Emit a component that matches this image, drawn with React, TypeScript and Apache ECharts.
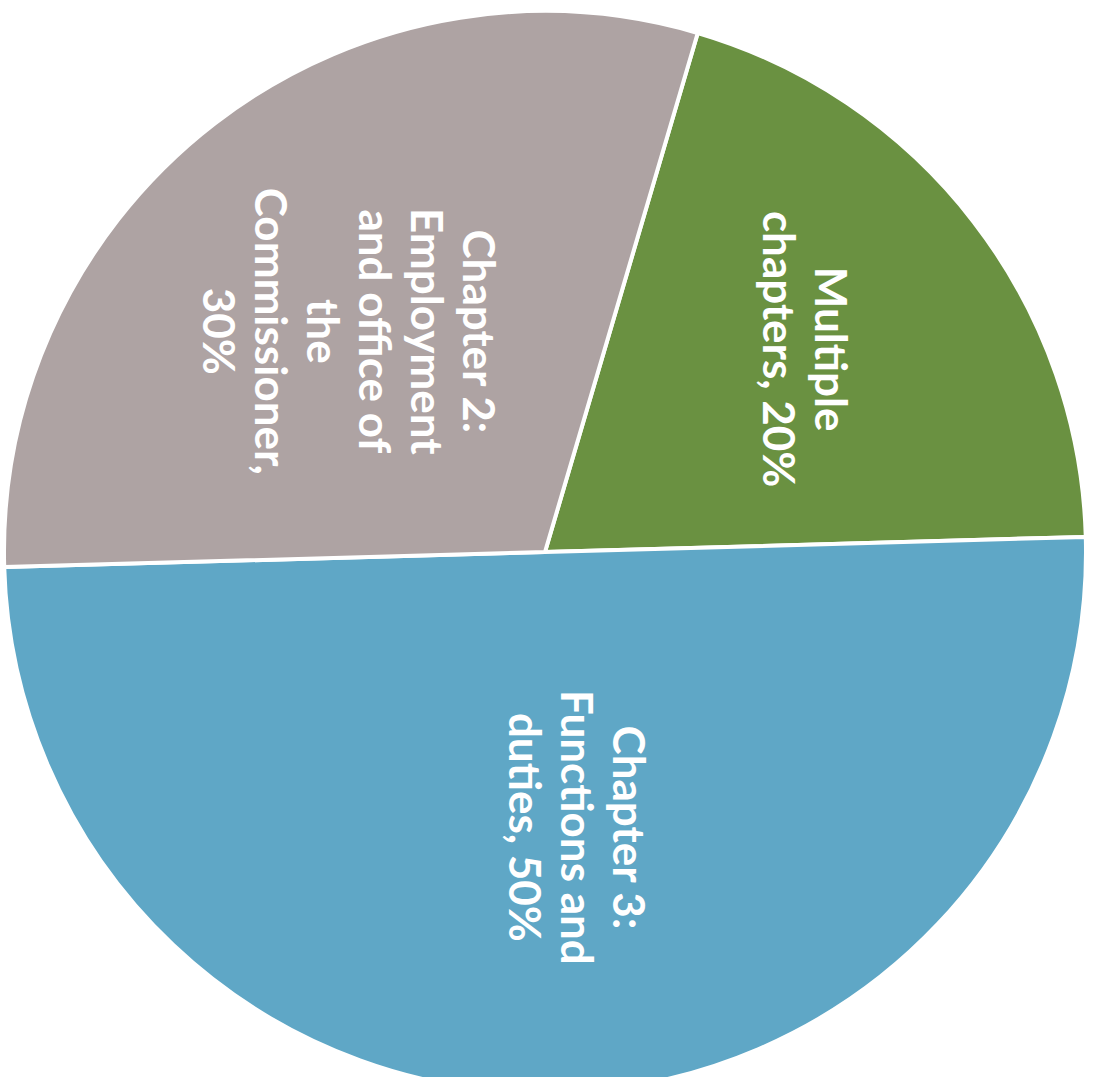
import React, { useEffect, useRef } from "react";
import * as echarts from "echarts";

// Data
const categories = [
  "Multiple\nchapters",
  "Chapter 3:\nFunctions and\nduties",
  "Chapter 2:\nEmployment\nand office of\nthe\nCommissioner",
];
const values = [20, 50, 30];
const valueSeparators = [" ", " ", "\n"];
const colors = ["#6a9141", "#5fa7c6", "#aea3a3"];
// nudges are in the label's own (rotated) frame
const labelNudgeAlong = [-36, 2, -4];
const labelNudgeAcross = [-44, -25, 28];

export default function App() {
  const ref = useRef<HTMLDivElement>(null);

  useEffect(() => {
    if (!ref.current) return;
    const chart = echarts.init(ref.current, undefined, { renderer: "svg" });
    chart.setOption({
      animation: false,
      backgroundColor: "#ffffff",
      series: [
        {
          type: "pie",
          center: [545, 552],
          radius: 541,
          startAngle: 73.6,
          clockwise: true,
          avoidLabelOverlap: false,
          data: categories.map((name, i) => ({
            name,
            value: values[i],
            itemStyle: { color: colors[i] },
          })),
          itemStyle: { borderColor: "#ffffff", borderWidth: 4 },
          label: {
            show: true,
            position: "inside",
            rotate: -90,
            color: "#ffffff",
            fontFamily: "Lato",
            fontWeight: "bold",
            fontSize: 44,
            lineHeight: 52,
            align: "center",
            formatter: (p: any) =>
              `${p.name},${valueSeparators[p.dataIndex]}${p.value}%`,
          },
          labelLine: { show: false },
          labelLayout: (params: any) => ({
            dx: labelNudgeAlong[params.dataIndex],
            dy: labelNudgeAcross[params.dataIndex],
          }),
          emphasis: { disabled: true },
        },
      ],
    });
    return () => chart.dispose();
  }, []);

  return (
    <div
      ref={ref}
      style={{ position: "fixed", left: 0, top: 0, width: 1097, height: 1077 }}
    />
  );
}
